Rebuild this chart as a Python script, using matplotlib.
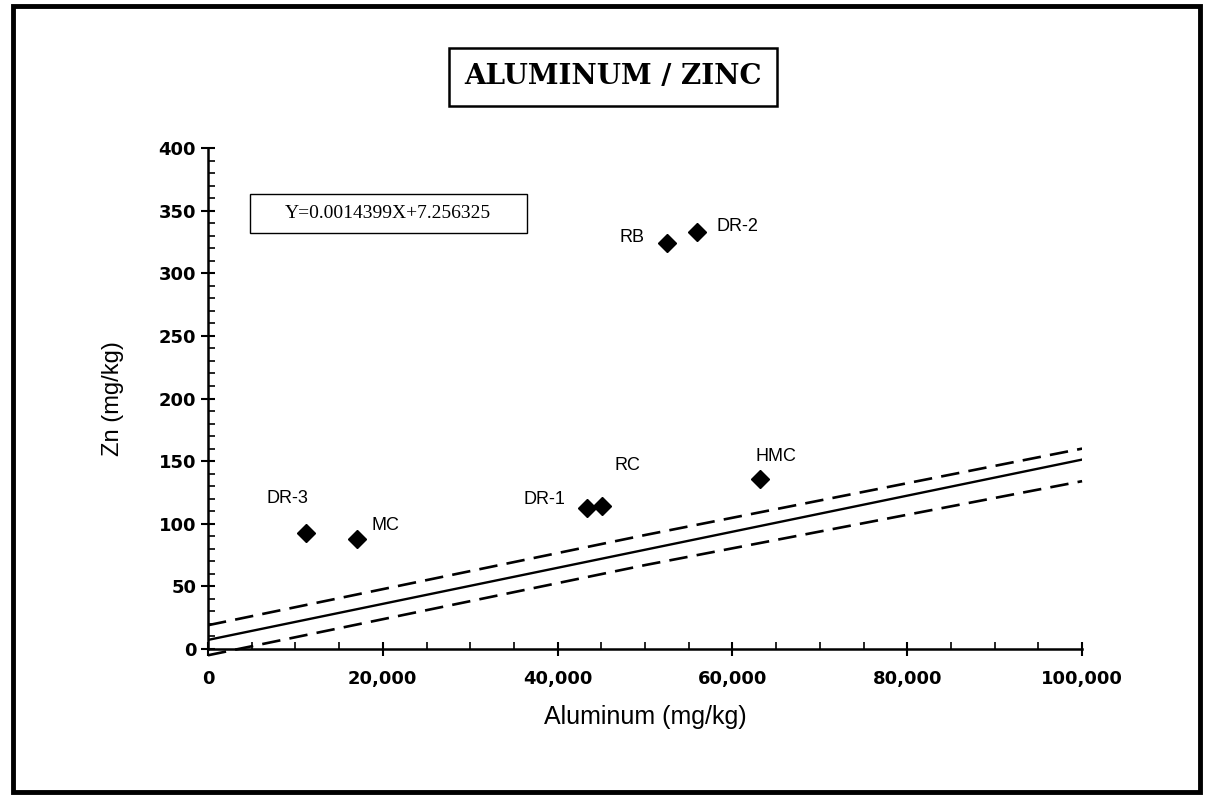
import numpy as np
import matplotlib.pyplot as plt
import matplotlib.patches as mpatches
from matplotlib.ticker import MultipleLocator, FuncFormatter

#%% datos
sitios = ['DR-3', 'MC', 'DR-1', 'RC', 'HMC', 'RB', 'DR-2']
aluminio = [11200, 17100, 43400, 45100, 63200, 52500, 56000]
zinc = [92.6, 87.8, 112.6, 114.2, 135.7, 324, 333]

pendiente = 0.0014399
ordenada = 7.256325
banda_x = [0, 50000, 100000]
banda_sup = [19, 91, 160]
banda_inf = [-5, 67, 134]

# desplazamiento de etiquetas (pt) y alineacion
offsets = {'DR-3': (-13, 25, 'center'), 'MC': (10, 10, 'left'),
           'DR-1': (-16, 6, 'right'), 'RC': (18, 29, 'center'),
           'HMC': (11, 16, 'center'), 'RB': (-16, 4, 'right'),
           'DR-2': (14, 4, 'left')}

#%% figura
fig = plt.figure(figsize=(12.05, 7.98), dpi=100)
ax = fig.add_axes([0.1726, 0.1867, 0.898 - 0.1726, 0.8145 - 0.1867])

x_fit = np.array([0, 100000])
ax.plot(x_fit, pendiente * x_fit + ordenada, color='black', lw=1.7)
ax.plot(banda_x, banda_sup, color='black', lw=1.9, ls=(0, (7, 3.5)))
ax.plot(banda_x, banda_inf, color='black', lw=1.9, ls=(0, (7, 3.5)), clip_on=False)

ax.plot(aluminio, zinc, 'D', color='black', markersize=9.5, clip_on=False)
for s, xa, yz in zip(sitios, aluminio, zinc):
    dx, dy, ha = offsets[s]
    ax.annotate(s, (xa, yz), xytext=(dx, dy), textcoords='offset points',
                ha=ha, va='center', fontsize=13, family='Liberation Sans')

ax.set_xlim(0, 100000)
ax.set_ylim(0, 400)
ax.xaxis.set_major_locator(MultipleLocator(20000))
ax.xaxis.set_minor_locator(MultipleLocator(5000))
ax.yaxis.set_major_locator(MultipleLocator(50))
ax.yaxis.set_minor_locator(MultipleLocator(10))
ax.xaxis.set_major_formatter(FuncFormatter(lambda v, p: '{:,.0f}'.format(v)))

for sp in ['top', 'right']:
    ax.spines[sp].set_visible(False)
for sp in ['left', 'bottom']:
    ax.spines[sp].set_linewidth(1.8)
ax.tick_params(which='major', direction='inout', length=10, width=1.5,
               labelsize=13)
ax.tick_params(which='minor', direction='in', length=5, width=1.2)
ax.tick_params(axis='x', pad=10)
for lab in ax.get_xticklabels() + ax.get_yticklabels():
    lab.set_fontweight('bold')

ax.set_xlabel('Aluminum (mg/kg)', fontsize=18, family='Liberation Sans', labelpad=12)
ax.set_ylabel('Zn (mg/kg)', fontsize=17, family='Liberation Sans', labelpad=25)

# titulo en caja
fig.text(613 / 1205, 1 - 77 / 798, 'ALUMINUM / ZINC', ha='center', va='center',
         fontsize=20, fontweight='bold', family='DejaVu Serif',
         bbox=dict(boxstyle='square,pad=0.55', fc='white', ec='black', lw=1.8))

# ecuacion en caja
fig.patches.append(mpatches.Rectangle((250 / 1205, 1 - 233 / 798), 277 / 1205, 39 / 798,
                                      transform=fig.transFigure, fill=False,
                                      ec='black', lw=1.0))
fig.text(388 / 1205, 1 - 213 / 798, 'Y=0.0014399X+7.256325', ha='center', va='center',
         fontsize=14, family='Liberation Serif')

# marco exterior
fig.patches.append(mpatches.Rectangle((13 / 1205, 6 / 798), 1187 / 1205, 786 / 798,
                                      transform=fig.transFigure, fill=False,
                                      ec='black', lw=3.5))

plt.savefig('out.png', dpi=100)
